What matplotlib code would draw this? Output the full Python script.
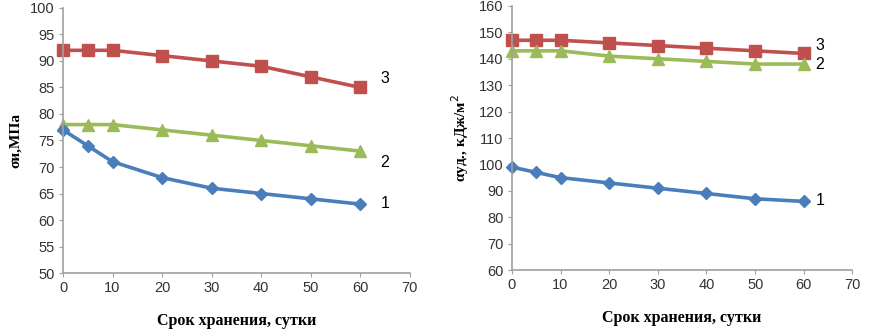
import numpy as np
import matplotlib.pyplot as plt

plt.rcParams['font.family'] = ['Liberation Sans', 'DejaVu Sans']

days = [0, 5, 10, 20, 30, 40, 50, 60]

# left panel: sigma_i, MPa
sig_1 = [77, 74, 71, 68, 66, 65, 64, 63]
sig_2 = [78, 78, 78, 77, 76, 75, 74, 73]
sig_3 = [92, 92, 92, 91, 90, 89, 87, 85]

# right panel: alpha_ud, kJ/m2
alf_1 = [99, 97, 95, 93, 91, 89, 87, 86]
alf_2 = [143, 143, 143, 141, 140, 139, 138, 138]
alf_3 = [147, 147, 147, 146, 145, 144, 143, 142]

blue = '#4A7EBB'
green = '#9BBB59'
red = '#C0504D'

fig = plt.figure(figsize=(8.69, 3.29), dpi=100)
ax0 = fig.add_axes([0.0725, 0.170, 0.399, 0.806])
ax1 = fig.add_axes([0.589, 0.179, 0.392, 0.803])

serif = {'family': ['Liberation Serif', 'DejaVu Serif'], 'weight': 'bold'}


def style(ax, ylim, yticks):
    ax.set_xlim(0, 70)
    ax.set_ylim(*ylim)
    ax.set_xticks(range(0, 71, 10))
    ax.set_yticks(yticks)
    for s in ['top', 'right']:
        ax.spines[s].set_visible(False)
    for s in ['left', 'bottom']:
        ax.spines[s].set_color('#A0A0A0')
        ax.spines[s].set_linewidth(1.2)
    ax.tick_params(axis='both', direction='out', length=3, color='#A0A0A0',
                   labelsize=10.5, labelcolor='#333333', pad=3)
    ax.set_xlabel('Срок хранения, сутки', fontdict=serif, fontsize=11.5, labelpad=13)


def draw(ax, s1, s2, s3):
    ax.plot(days, s3, color=red, marker='s', markersize=8, linewidth=2.6, clip_on=False)
    ax.plot(days, s2, color=green, marker='^', markersize=8, linewidth=2.6, clip_on=False)
    ax.plot(days, s1, color=blue, marker='D', markersize=6.5, linewidth=2.6, clip_on=False)


style(ax0, (50, 100), range(50, 101, 5))
draw(ax0, sig_1, sig_2, sig_3)
ax0.set_ylabel('σи,МПа', fontdict=serif, fontsize=11, labelpad=6)
ax0.text(65, 86.6, '3', fontsize=11.5, ha='center', va='center')
ax0.text(65, 70.8, '2', fontsize=11.5, ha='center', va='center')
ax0.text(65, 63.2, '1', fontsize=11.5, ha='center', va='center')

style(ax1, (60, 160), range(60, 161, 10))
draw(ax1, alf_1, alf_2, alf_3)
ax1.set_ylabel('αуд., кДж/м$^2$', fontdict=serif, fontsize=11, labelpad=6)
ax1.text(63.3, 145.2, '3', fontsize=11.5, ha='center', va='center')
ax1.text(63.3, 137.7, '2', fontsize=11.5, ha='center', va='center')
ax1.text(63.3, 86.5, '1', fontsize=11.5, ha='center', va='center')

fig.savefig('out.png', dpi=100)
